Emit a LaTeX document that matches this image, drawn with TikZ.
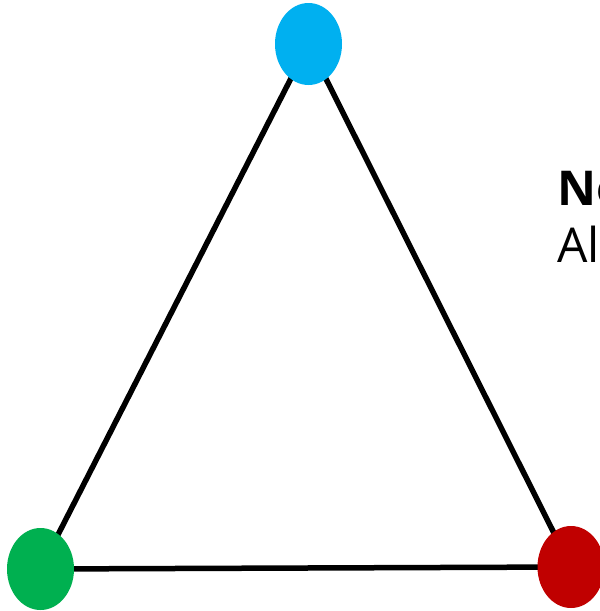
\documentclass[tikz,border=0pt]{standalone}
\usepackage{fontspec}
\setmainfont{Open Sans}
\usetikzlibrary{shapes.geometric}
\definecolor{vblue}{RGB}{0,176,240}
\definecolor{vgreen}{RGB}{0,176,80}
\definecolor{vred}{RGB}{192,0,0}

\begin{document}
\begin{tikzpicture}[x=1pt,y=-1pt,
     vtx/.style={ellipse,draw=none,minimum width=67pt,minimum height=82pt,inner sep=0pt},
     edge/.style={line width=5.5pt,black},
     lbl/.style={anchor=base west,inner sep=0pt,font=\fontsize{48}{58}\selectfont}]
    \useasboundingbox (0,0) rectangle (600,611);
    \coordinate (top) at (308.5,44);
    \coordinate (left) at (40.5,569);
    \coordinate (right) at (571,567);
    \draw[edge] (top) -- (left) -- (right) -- cycle;
    \node[vtx,fill=vblue] (ntop) at (top) {};
    \node[vtx,fill=vgreen] (nleft) at (left) {};
    \node[vtx,fill=vred] (nright) at (right) {};
    \node[lbl] (ttl) at (557,205) {\textbf{No}};
    \node[lbl] (sub) at (557,262) {Al};
  \end{tikzpicture}
\end{document}
